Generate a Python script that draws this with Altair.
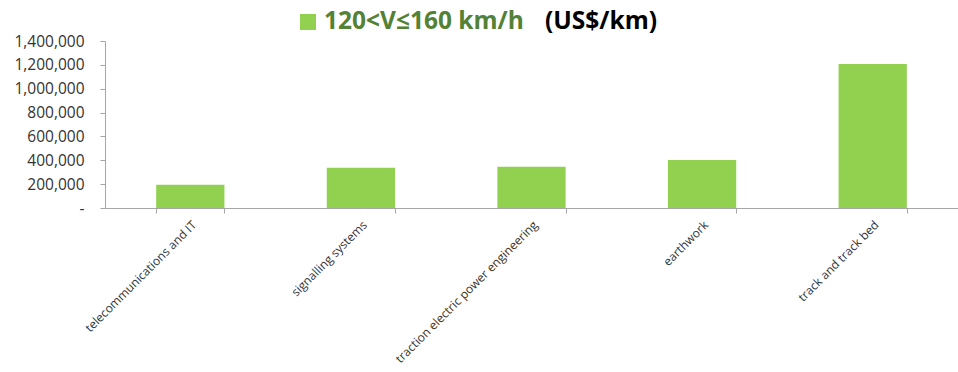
import altair as alt
import pandas as pd

categories = ["telecommunications and IT", "signalling systems",
              "traction electric power engineering", "earthwork", "track and track bed"]
values = [195000, 338000, 345000, 402000, 1207000]
y_ticks = [0, 200000, 400000, 600000, 800000, 1000000, 1200000, 1400000]
legend_label = ["120<V≤160 km/h"]
unit_label = ["(US$/km)"]

df = pd.DataFrame({"category": categories, "value": values})

FONT = "Open Sans"

bars = alt.Chart(df).mark_bar(color="#92D050").encode(
    x=alt.X("category:N", sort=categories, title=None,
            scale=alt.Scale(paddingInner=0.6, paddingOuter=0.3),
            axis=alt.Axis(labelAngle=-45, labelFontSize=12, labelColor="#333333",
                          labelFont=FONT, tickBand="extent", domainColor="#a6a6a6",
                          tickColor="#a6a6a6", tickSize=5, labelPadding=6,
                          labelLimit=400)),
    y=alt.Y("value:Q", title=None,
            scale=alt.Scale(domain=[0, 1400000], nice=False),
            axis=alt.Axis(values=y_ticks, grid=False, labelFontSize=15.5,
                          labelColor="#333333", labelFont=FONT,
                          labelExpr="datum.value == 0 ? '-' : format(datum.value, ',')",
                          domainColor="#a6a6a6", tickColor="#a6a6a6", tickSize=5,
                          labelPadding=16)),
)

sq = alt.Chart(pd.DataFrame({"t": legend_label})).mark_square(
    color="#92D050", size=256, opacity=1).encode(
    x=alt.value(203), y=alt.value(-19))

green = alt.Chart(pd.DataFrame({"t": legend_label})).mark_text(
    align="left", baseline="middle", font=FONT, fontSize=24.5, fontWeight="bold",
    color="#538135").encode(x=alt.value(219), y=alt.value(-19), text="t:N")

black = alt.Chart(pd.DataFrame({"t": unit_label})).mark_text(
    align="left", baseline="middle", font=FONT, fontSize=24.5, fontWeight="bold",
    color="#000000").encode(x=alt.value(440), y=alt.value(-19), text="t:N")

chart = alt.layer(bars, sq, green, black).properties(
    width=853, height=167,
    autosize=alt.AutoSizeParams(type="none"),
    padding={"left": 105, "top": 41, "right": 0, "bottom": 164},
).configure(background="white").configure_view(stroke=None)

chart.save("out.html", embed_options={"renderer": "svg", "actions": False})
